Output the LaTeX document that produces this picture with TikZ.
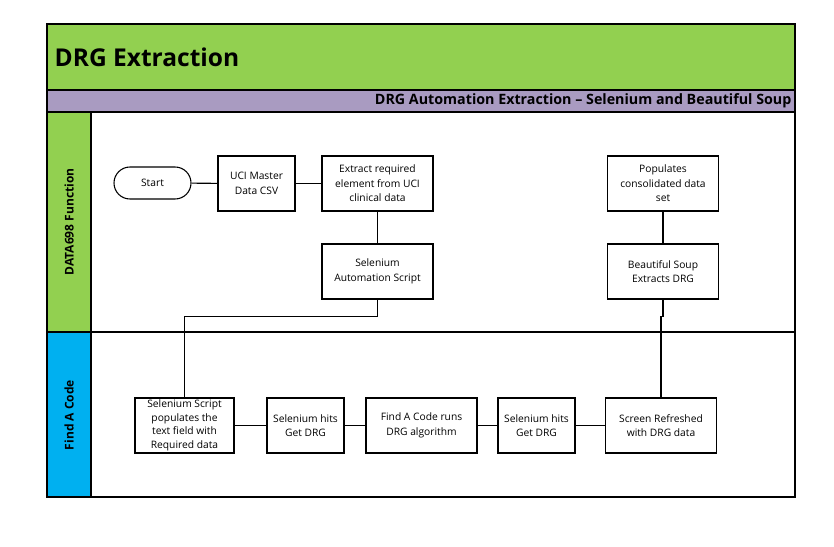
\documentclass[tikz,border=0pt]{standalone}
\usepackage{fontspec}
\setmainfont{Open Sans}
\definecolor{lanegreen}{HTML}{92D050}
\definecolor{lanepurple}{HTML}{A99BC1}
\definecolor{laneblue}{HTML}{00B0F0}
\begin{document}
\begin{tikzpicture}[x=0.75pt, y=-0.75pt, font=\fontsize{7.7}{10.9}\selectfont,
  proc/.style={draw, line width=0.8pt, align=center, minimum width=57.75pt, minimum height=41.25pt, inner sep=1pt},
  wideproc/.style={proc, minimum width=83.25pt},
  term/.style={draw, line width=0.8pt, rounded corners=12pt, minimum width=57.75pt, minimum height=24pt},
  lanelbl/.style={rotate=90, font=\fontsize{9}{11}\selectfont\bfseries},
  link/.style={draw, line width=0.8pt}]
  \useasboundingbox (0,0) rectangle (834,546);
  % pool frame and lanes
  \fill[lanegreen] (47,24) rectangle (795,90);
  \fill[lanepurple] (47,90) rectangle (795,112);
  \fill[lanegreen] (47,112) rectangle (91,332);
  \fill[laneblue] (47,332) rectangle (91,497);
  \draw[line width=1pt] (47,24) rectangle (795,497);
  \draw[line width=1pt] (47,90) -- (795,90);
  \draw[line width=1pt] (47,112) -- (795,112);
  \draw[line width=1pt] (47,332) -- (795,332);
  \draw[line width=1pt] (91,112) -- (91,497);
  \node[anchor=west, font=\fontsize{18.4}{20}\selectfont\bfseries] (title) at (50,57) {DRG Extraction};
  \node[anchor=east, font=\fontsize{10.7}{12}\selectfont\bfseries, inner sep=1pt] (subtitle) at (793,101) {DRG Automation Extraction -- Selenium and Beautiful Soup};
  \node[lanelbl] (lane1) at (69,222) {DATA698 Function};
  \node[lanelbl] (lane2) at (69,415) {Find A Code};
  % DATA698 lane
  \node[term] (start) at (152.5,183) {Start};
  \node[proc] (uci) at (256.5,183.5) {UCI Master\\Data CSV};
  \node[wideproc] (extract) at (377.5,183.5) {Extract required\\element from UCI\\clinical data};
  \node[wideproc] (selauto) at (377.5,271.5) {Selenium\\Automation Script};
  \node[wideproc] (populate) at (663,183.5) {Populates\\consolidated data\\set};
  \node[wideproc] (soup) at (663,271.5) {Beautiful Soup\\Extracts DRG};
  % Find A Code lane
  \node[proc, minimum width=74.25pt, inner ysep=0pt, font=\fontsize{7.7}{10.2}\selectfont] (selscript) at (184.5,425.5) {Selenium Script\\populates the\\text field with\\Required data};
  \node[proc] (hitsa) at (305.5,425.5) {Selenium hits\\Get DRG};
  \node[wideproc] (fac) at (421.5,425.5) {Find A Code runs\\DRG algorithm};
  \node[proc] (hitsb) at (536.5,425.5) {Selenium hits\\Get DRG};
  \node[wideproc] (screen) at (661,425.5) {Screen Refreshed\\with DRG data};
  % connectors
  \path[link] (start) -- (uci);
  \path[link] (uci) -- (extract);
  \path[link] (extract) -- (selauto);
  \path[link] (selauto.south) -- ++(0,17) -| (selscript.north);
  \path[link] (selscript) -- (hitsa);
  \path[link] (hitsa) -- (fac);
  \path[link] (fac) -- (hitsb);
  \path[link] (hitsb) -- (screen);
  \path[link] (screen.north) -- ++(0,-81) -| (soup.south);
  \path[link] (soup) -- (populate);
\end{tikzpicture}
\end{document}
